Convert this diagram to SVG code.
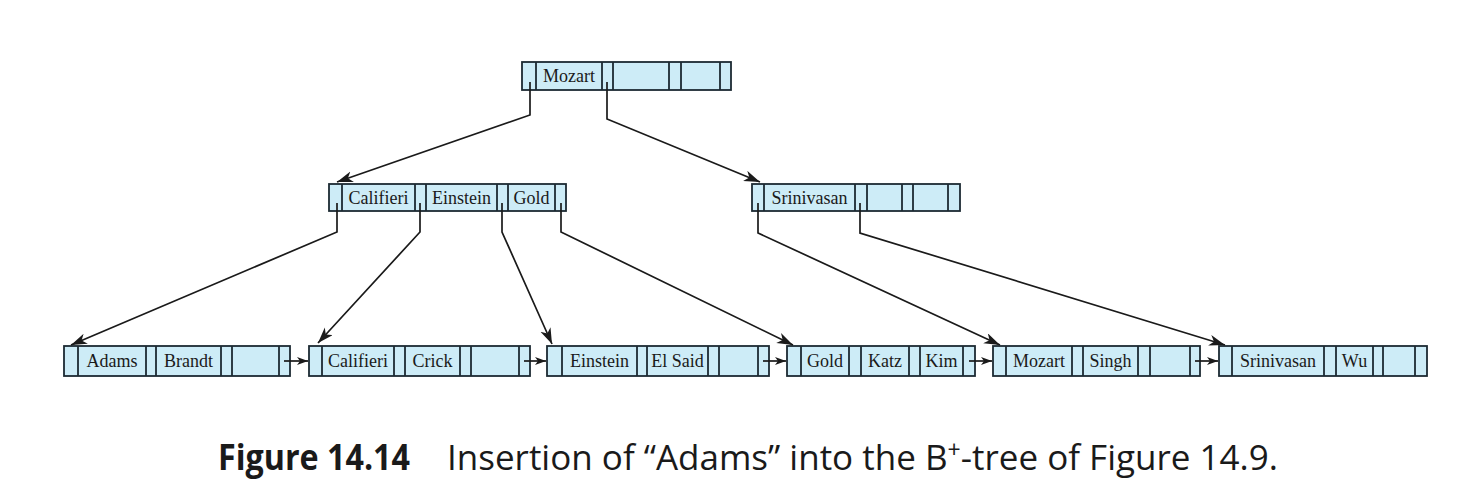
<svg xmlns="http://www.w3.org/2000/svg" width="1473" height="497" viewBox="0 0 1473 497">
<style>
.box{fill:#cdecf7;stroke:#1c2a32;stroke-width:1.8}
.div{stroke:#1c2a32;stroke-width:1.8}
.k{font-family:"Liberation Serif",serif;font-size:18px;fill:#1a1a1a;text-anchor:middle}
.c{stroke:#1a1a1a;stroke-width:1.7;fill:none}
.cap{font-family:"Open Sans","Liberation Sans",sans-serif;font-size:35px;fill:#1a1a1a}
</style>
<defs>
<marker id="ah" markerUnits="userSpaceOnUse" markerWidth="18" markerHeight="12" refX="16" refY="5.5" orient="auto">
<path d="M0,0 L16,5.5 L0,11 L4.5,5.5 z" fill="#1a1a1a"/>
</marker>
<marker id="as" markerUnits="userSpaceOnUse" markerWidth="12" markerHeight="9" refX="11" refY="4.5" orient="auto">
<path d="M0,0.5 L11,4.5 L0,8.5 L3,4.5 z" fill="#1a1a1a"/>
</marker>
</defs>
<rect width="1473" height="497" fill="#ffffff"/>

<g id="root">
<rect class="box" x="522" y="62" width="209" height="28"/>
<path class="div" d="M536,62V90M602,62V90M613,62V90M669,62V90M681,62V90M720,62V90"/>
<text class="k" x="569" y="82">Mozart</text>
</g>

<g id="inner-left">
<rect class="box" x="329" y="184" width="237" height="27"/>
<path class="div" d="M342,184V211M415,184V211M426,184V211M497,184V211M508,184V211M555,184V211"/>
<text class="k" x="378.5" y="204">Califieri</text>
<text class="k" x="461.5" y="204">Einstein</text>
<text class="k" x="531.5" y="204">Gold</text>
</g>

<g id="inner-right">
<rect class="box" x="752" y="184" width="208" height="27"/>
<path class="div" d="M764,184V211M855,184V211M867,184V211M902,184V211M913,184V211M948,184V211"/>
<text class="k" x="809.5" y="204">Srinivasan</text>
</g>

<g id="leaf1">
<rect class="box" x="64" y="346" width="226" height="30"/>
<path class="div" d="M78,346V376M146,346V376M156,346V376M221,346V376M232,346V376M279,346V376"/>
<text class="k" x="112" y="367">Adams</text>
<text class="k" x="188.5" y="367">Brandt</text>
</g>

<g id="leaf2">
<rect class="box" x="309" y="346" width="221" height="30"/>
<path class="div" d="M322,346V376M394,346V376M405,346V376M460,346V376M471,346V376M519,346V376"/>
<text class="k" x="358" y="367">Califieri</text>
<text class="k" x="432.5" y="367">Crick</text>
</g>

<g id="leaf3">
<rect class="box" x="547" y="346" width="222" height="30"/>
<path class="div" d="M562,346V376M637,346V376M647,346V376M708,346V376M719,346V376M758,346V376"/>
<text class="k" x="599.5" y="367">Einstein</text>
<text class="k" x="677.5" y="367">El Said</text>
</g>

<g id="leaf4">
<rect class="box" x="787" y="346" width="188" height="30"/>
<path class="div" d="M801,346V376M849,346V376M861,346V376M909,346V376M920,346V376M963,346V376"/>
<text class="k" x="825" y="367">Gold</text>
<text class="k" x="885" y="367">Katz</text>
<text class="k" x="941.5" y="367">Kim</text>
</g>

<g id="leaf5">
<rect class="box" x="993" y="346" width="207" height="30"/>
<path class="div" d="M1006,346V376M1072,346V376M1083,346V376M1138,346V376M1150,346V376M1190,346V376"/>
<text class="k" x="1039" y="367">Mozart</text>
<text class="k" x="1110.5" y="367">Singh</text>
</g>

<g id="leaf6">
<rect class="box" x="1219" y="346" width="208" height="30"/>
<path class="div" d="M1232,346V376M1324,346V376M1336,346V376M1373,346V376M1383,346V376M1415,346V376"/>
<text class="k" x="1278" y="367">Srinivasan</text>
<text class="k" x="1354.5" y="367">Wu</text>
</g>

<g id="connectors">
<path class="c" marker-end="url(#ah)" d="M530,82V115L337,182"/>
<path class="c" marker-end="url(#ah)" d="M607,82V119L760,182"/>
<path class="c" marker-end="url(#ah)" d="M337,203V232L71,345"/>
<path class="c" marker-end="url(#ah)" d="M420,203V232L318,343"/>
<path class="c" marker-end="url(#ah)" d="M502,203V232L552,344"/>
<path class="c" marker-end="url(#ah)" d="M561,203V232L793,345"/>
<path class="c" marker-end="url(#ah)" d="M758,203V233L1000,345"/>
<path class="c" marker-end="url(#ah)" d="M860,203V233L1225,345"/>
<path class="c" marker-end="url(#as)" d="M284,361H308"/>
<path class="c" marker-end="url(#as)" d="M524,361H546"/>
<path class="c" marker-end="url(#as)" d="M763,361H786"/>
<path class="c" marker-end="url(#as)" d="M969,361H992"/>
<path class="c" marker-end="url(#as)" d="M1195,361H1218"/>
</g>

<g id="caption">
<text class="cap" x="218" y="470" font-weight="bold" textLength="192" lengthAdjust="spacingAndGlyphs">Figure 14.14</text>
<text class="cap" x="447" y="470" textLength="831" lengthAdjust="spacingAndGlyphs">Insertion of “Adams” into the B<tspan dy="-12" font-size="23">+</tspan><tspan dy="12">-tree of Figure 14.9.</tspan></text>
</g>
</svg>
